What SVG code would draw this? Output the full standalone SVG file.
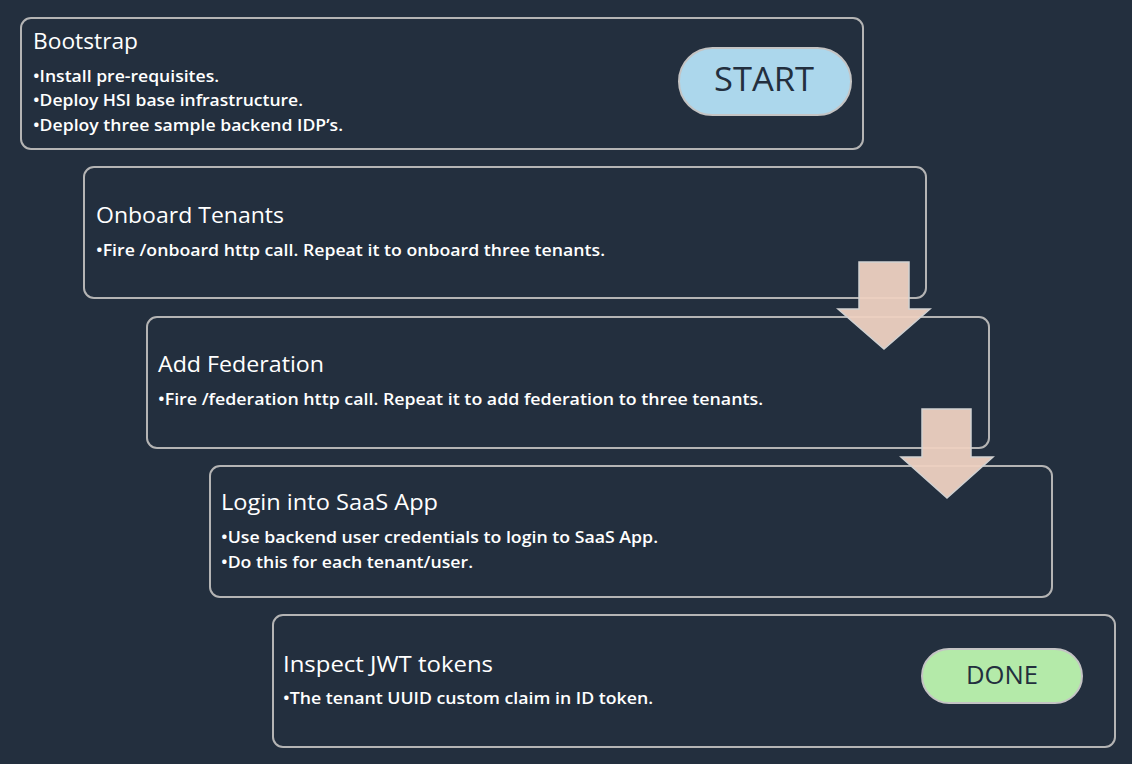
<svg xmlns="http://www.w3.org/2000/svg" width="1132" height="764" viewBox="0 0 1132 764">
<style>
.box{fill:#232f3e;stroke:#b4b4b4;stroke-width:2}
.title{font-family:"Open Sans","Noto Sans","Liberation Sans",sans-serif;font-size:21px;font-weight:500;fill:#ffffff}
.bul{font-family:"Open Sans","Noto Sans","Liberation Sans",sans-serif;font-size:16px;font-weight:600;fill:#ffffff}
.pill{stroke:#c4c4c4;stroke-width:2}
.ptext{font-family:"Open Sans","Noto Sans","Liberation Sans",sans-serif;font-weight:500;fill:#232f3e;text-anchor:middle}
.arrow{fill:#eed1c1;fill-opacity:0.95;stroke:#d2d2d2;stroke-width:1.5}
</style>
<rect width="1132" height="764" fill="#232f3e"/>
<g id="bootstrap">
<rect class="box" x="21" y="18" width="842" height="131" rx="10"/>
<text class="title" x="33" y="49" textLength="105" lengthAdjust="spacingAndGlyphs">Bootstrap</text>
<text class="bul" x="33" y="82" textLength="186" lengthAdjust="spacingAndGlyphs">•Install pre-requisites.</text>
<text class="bul" x="33" y="106" textLength="270" lengthAdjust="spacingAndGlyphs">•Deploy HSI base infrastructure.</text>
<text class="bul" x="33" y="131" textLength="310" lengthAdjust="spacingAndGlyphs">•Deploy three sample backend IDP’s.</text>
</g>
<g id="start">
<rect class="pill" x="679" y="48" width="172" height="67" rx="33.5" fill="#acd7ec"/>
<text class="ptext" x="764" y="91" font-size="33" textLength="100" lengthAdjust="spacingAndGlyphs">START</text>
</g>
<g id="onboard">
<rect class="box" x="84" y="167" width="842" height="131" rx="10"/>
<text class="title" x="96" y="223" textLength="188" lengthAdjust="spacingAndGlyphs">Onboard Tenants</text>
<text class="bul" x="96" y="256" textLength="509" lengthAdjust="spacingAndGlyphs">•Fire /onboard http call. Repeat it to onboard three tenants.</text>
</g>
<g id="federation">
<rect class="box" x="147" y="317" width="842" height="131" rx="10"/>
<text class="title" x="158" y="372" textLength="166" lengthAdjust="spacingAndGlyphs">Add Federation</text>
<text class="bul" x="158" y="405" textLength="605" lengthAdjust="spacingAndGlyphs">•Fire /federation http call. Repeat it to add federation to three tenants.</text>
</g>
<g id="login">
<rect class="box" x="210" y="466" width="842" height="131" rx="10"/>
<text class="title" x="221" y="510" textLength="217" lengthAdjust="spacingAndGlyphs">Login into SaaS App</text>
<text class="bul" x="221" y="543" textLength="437" lengthAdjust="spacingAndGlyphs">•Use backend user credentials to login to SaaS App.</text>
<text class="bul" x="221" y="568" textLength="252" lengthAdjust="spacingAndGlyphs">•Do this for each tenant/user.</text>
</g>
<g id="inspect">
<rect class="box" x="273" y="615" width="842" height="132" rx="10"/>
<text class="title" x="283" y="672" textLength="210" lengthAdjust="spacingAndGlyphs">Inspect JWT tokens</text>
<text class="bul" x="283" y="704" textLength="370" lengthAdjust="spacingAndGlyphs">•The tenant UUID custom claim in ID token.</text>
</g>
<g id="done">
<rect class="pill" x="922" y="649" width="160" height="54" rx="27" fill="#b4eaa9"/>
<text class="ptext" x="1002" y="684" font-size="26" textLength="72" lengthAdjust="spacingAndGlyphs">DONE</text>
</g>
<g id="connectors">
<path class="arrow" d="M859,262 H909 V309 H930 L884,349 L838,309 H859 Z"/>
<path class="arrow" d="M922,409 H971 V457 H993 L947,498 L901,457 H922 Z"/>
</g>
</svg>
